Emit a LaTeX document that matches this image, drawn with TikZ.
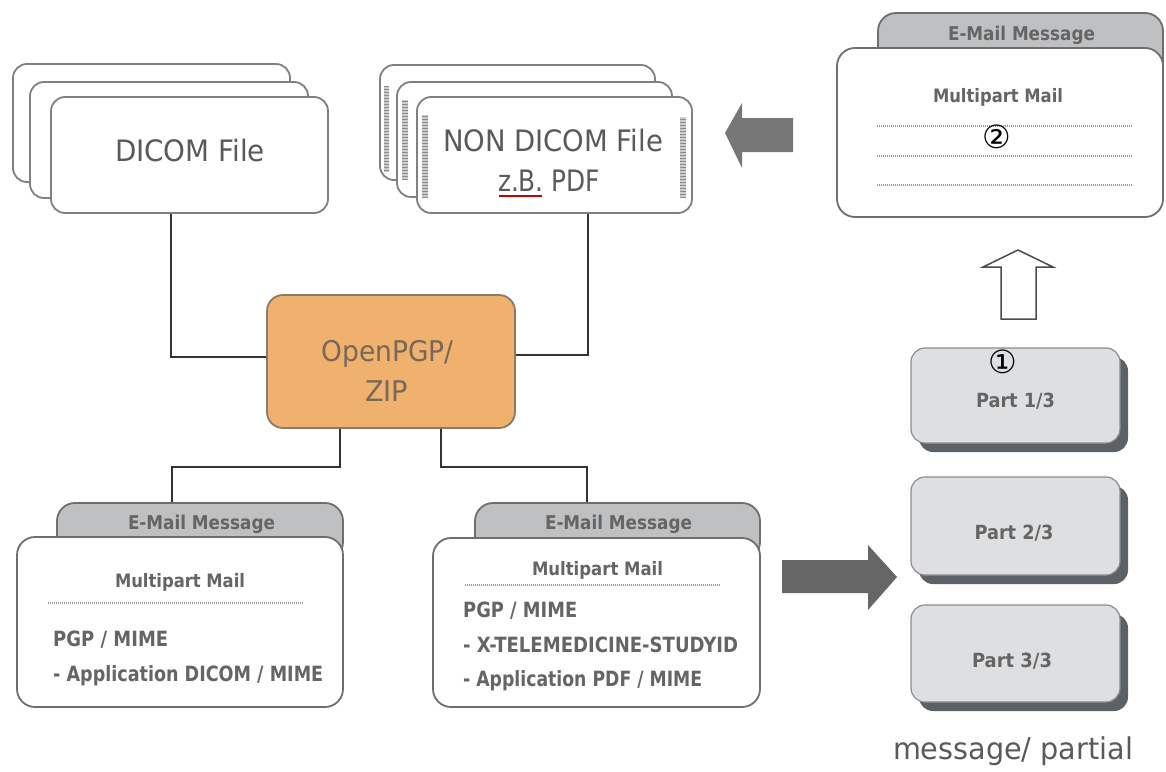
\documentclass[tikz,border=0pt]{standalone}
\usepackage{graphicx}
\usepackage{fontspec}
\setmainfont{DejaVu Sans}
\newfontfamily\symfont{DejaVu Sans}
\usetikzlibrary{patterns}

\definecolor{cardline}{HTML}{808080}
\definecolor{mailline}{HTML}{6E6E6E}
\definecolor{tabgray}{HTML}{BFC0C2}
\definecolor{filetext}{HTML}{5A5A5A}
\definecolor{mailtext}{HTML}{656565}
\definecolor{pgpfill}{HTML}{F0B06E}
\definecolor{pgpline}{HTML}{8A7A6A}
\definecolor{pgptext}{HTML}{776858}
\definecolor{partfill}{HTML}{DEDFE1}
\definecolor{partshade}{HTML}{5C6166}
\definecolor{partline}{HTML}{8C8C8C}
\definecolor{leftarrow}{HTML}{777777}
\definecolor{rightarrow}{HTML}{666666}
\definecolor{connline}{HTML}{333333}

\newcommand\pxfont[1]{\fontsize{#1}{#1}\selectfont}
% set a text to a given width, keeping its height
\newcommand\fitw[2]{\resizebox{#1}{\height}{#2}}

\begin{document}
\begin{tikzpicture}[x=1pt,y=-1pt,
  filecard/.style={draw=cardline, line width=1.8pt, fill=white, rounded corners=14pt, inner sep=0pt},
  pgpbox/.style={draw=pgpline, line width=1.8pt, fill=pgpfill, rounded corners=16pt, inner sep=0pt},
  mailtab/.style={draw=mailline, line width=1.8pt, fill=tabgray, rounded corners=18pt, inner sep=0pt},
  mailcard/.style={draw=mailline, line width=1.8pt, fill=white, rounded corners=18pt, inner sep=0pt},
  partbox/.style={draw=partline, line width=1.2pt, fill=partfill, rounded corners=14pt, inner sep=0pt,
    minimum width=209pt},
  partshadow/.style={fill=partshade, rounded corners=14pt, inner sep=0pt, minimum width=209pt},
  bigtext/.style={inner sep=0pt, text=filetext, font=\pxfont{29.5}},
  tabtext/.style={inner sep=0pt, text=mailtext, font=\bfseries\pxfont{19}},
  headtext/.style={inner sep=0pt, text=mailtext, font=\bfseries\pxfont{18.5}},
  bodytext/.style={inner sep=0pt, text=mailtext, font=\bfseries\pxfont{21}},
  parttext/.style={inner sep=0pt, text=mailtext, font=\bfseries\pxfont{19.5}},
  digit/.style={inner sep=0pt, text=black, font=\symfont\pxfont{32}},
  conn/.style={draw=connline, line width=1.6pt},
  dotline/.style={draw=gray!80, line width=1.3pt, dash pattern=on 1pt off 1pt},
  strip/.style={pattern=horizontal lines, pattern color=gray!90}
]
\useasboundingbox (0,0) rectangle (1166,771);

% ---- stack of DICOM files
\node[filecard, minimum width=277pt, minimum height=118pt] (dicomC) at (151.5,123) {};
\node[filecard, minimum width=278pt, minimum height=116pt] (dicomB) at (169,140) {};
\node[filecard, minimum width=277pt, minimum height=116pt] (dicom) at (189.5,155) {};
\node[bigtext, anchor=base] (dicomlabel) at (190,161.5) {\fitw{150pt}{DICOM File}};

% ---- stack of non-DICOM files with hatched edges
\node[filecard, minimum width=275pt, minimum height=115pt] (ndC) at (517.5,122.5) {};
\fill[gray!40] (384,86) rectangle (389,172);
\fill[strip] (384,86) rectangle (389,172);
\node[filecard, minimum width=275pt, minimum height=115pt] (ndB) at (534.5,139.5) {};
\fill[gray!40] (402,100) rectangle (408,180);
\fill[strip] (402,100) rectangle (408,180);
\node[filecard, minimum width=275pt, minimum height=116pt] (nd) at (554.5,155) {};
\fill[gray!40] (422,115) rectangle (428,197);
\fill[strip] (422,115) rectangle (428,197);
\fill[gray!40] (680,117) rectangle (686,197);
\fill[strip] (680,117) rectangle (686,197);
\node[bigtext, anchor=base] (ndlabelA) at (553,151.5) {\fitw{220pt}{NON DICOM File}};
\node[bigtext, anchor=base] (ndlabelB) at (549,191.5) {\fitw{102pt}{z.B. PDF}};
\draw[red!80!black, line width=2pt] (499,195.5) -- (542,195.5);

% ---- archive container
\node[pgpbox, minimum width=248pt, minimum height=133pt] (pgp) at (391,361.5) {};
\node[inner sep=0pt, text=pgptext, font=\pxfont{28.5}, anchor=base] (pgpA) at (387.5,361.5) {\fitw{132pt}{OpenPGP/}};
\node[inner sep=0pt, text=pgptext, font=\pxfont{28.5}, anchor=base] (pgpB) at (386.5,401.5) {\fitw{43pt}{ZIP}};

% ---- left e-mail message
\node[mailtab, minimum width=286pt, minimum height=57pt] (tabL) at (200,531.5) {};
\node[tabtext, anchor=base] (tabLtext) at (201.5,529) {\fitw{147pt}{E-Mail Message}};
\node[mailcard, minimum width=326pt, minimum height=170pt] (cardL) at (180,622) {};
\node[headtext, anchor=base] (cardLhead) at (180,587) {\fitw{130pt}{Multipart Mail}};
\draw[dotline] (48,603) -- (303,603);
\node[bodytext, anchor=base west] (cardLa) at (53,646.5) {\fitw{115pt}{PGP / MIME}};
\node[bodytext, anchor=base west] (cardLb) at (53,681) {\fitw{270pt}{- Application DICOM / MIME}};

% ---- right e-mail message
\node[mailtab, minimum width=285pt, minimum height=57pt] (tabR) at (617.5,531.5) {};
\node[tabtext, anchor=base] (tabRtext) at (618.5,529) {\fitw{147pt}{E-Mail Message}};
\node[mailcard, minimum width=327pt, minimum height=169pt] (cardR) at (596.5,622.5) {};
\node[headtext, anchor=base] (cardRhead) at (597.5,575) {\fitw{131pt}{Multipart Mail}};
\draw[dotline] (465,585) -- (720,585);
\node[bodytext, anchor=base west] (cardRa) at (463,617.5) {\fitw{114pt}{PGP / MIME}};
\node[bodytext, anchor=base west] (cardRb) at (463,652) {\fitw{275pt}{- X-TELEMEDICINE-STUDYID}};
\node[bodytext, anchor=base west] (cardRc) at (463,686) {\fitw{239pt}{- Application PDF / MIME}};

% ---- reassembled e-mail message (top right)
\node[mailtab, minimum width=285pt, minimum height=67pt] (tabT) at (1020.5,46.5) {};
\node[tabtext, anchor=base] (tabTtext) at (1021.5,40.5) {\fitw{147pt}{E-Mail Message}};
\node[mailcard, minimum width=326pt, minimum height=169pt] (cardT) at (1000,132.5) {};
\node[headtext, anchor=base] (cardThead) at (998,102.5) {\fitw{130pt}{Multipart Mail}};
\draw[dotline] (877,126) -- (1133,126);
\draw[dotline] (877,156) -- (1133,156);
\draw[dotline] (877,185) -- (1133,185);
\node[digit] (two) at (997,137) {②};

% ---- message parts
\node[partshadow, minimum height=95pt] (p1s) at (1023.5,404.5) {};
\node[partbox, minimum height=95pt] (p1) at (1015.5,395.5) {};
\node[parttext, anchor=base] (p1t) at (1015.5,407) {\fitw{79pt}{Part 1/3}};
\node[digit] (one) at (1003,362) {①};
\node[partshadow, minimum height=98pt] (p2s) at (1023.5,535) {};
\node[partbox, minimum height=98pt] (p2) at (1015.5,526) {};
\node[parttext, anchor=base] (p2t) at (1014,539) {\fitw{79pt}{Part 2/3}};
\node[partshadow, minimum height=97pt] (p3s) at (1023.5,662.5) {};
\node[partbox, minimum height=97pt] (p3) at (1015.5,653.5) {};
\node[parttext, anchor=base] (p3t) at (1012,667) {\fitw{80pt}{Part 3/3}};

\node[inner sep=0pt, text=filetext, font=\pxfont{30}, anchor=base] (partial) at (1013,759) {\fitw{240pt}{message/ partial}};

% ---- connectors
\draw[conn] ([xshift=-18.5pt]dicom.south) |- ([yshift=4.5pt]pgp.west);
\draw[conn] ([xshift=33.5pt]nd.south) |- ([yshift=6.5pt]pgp.east);
\draw[conn] ([xshift=-51pt]pgp.south) -- ++(0,38) -| ([xshift=-28pt]tabL.north);
\draw[conn] ([xshift=50pt]pgp.south) -- ++(0,38) -| ([xshift=-30.5pt]tabR.north);

% ---- block arrows
\coordinate (leftTip) at (725,133);
\fill[leftarrow] (leftTip) -- ++(17,-30) -- ++(0,15) -- ++(51,0) -- ++(0,34)
  -- ++(-51,0) -- ++(0,16) -- cycle;
\coordinate (rightTip) at (897,577);
\fill[rightarrow] (rightTip) -- ++(-29,-32) -- ++(0,15) -- ++(-86,0) -- ++(0,33)
  -- ++(86,0) -- ++(0,17) -- cycle;
\coordinate (upTip) at (1018,250);
\draw[draw=black!70, fill=white, line width=1.5pt, line join=miter] (upTip) -- ++(35,17) -- ++(-17,0)
  -- ++(0,52) -- ++(-35,0) -- ++(0,-52) -- ++(-18,0) -- cycle;
\end{tikzpicture}
\end{document}
